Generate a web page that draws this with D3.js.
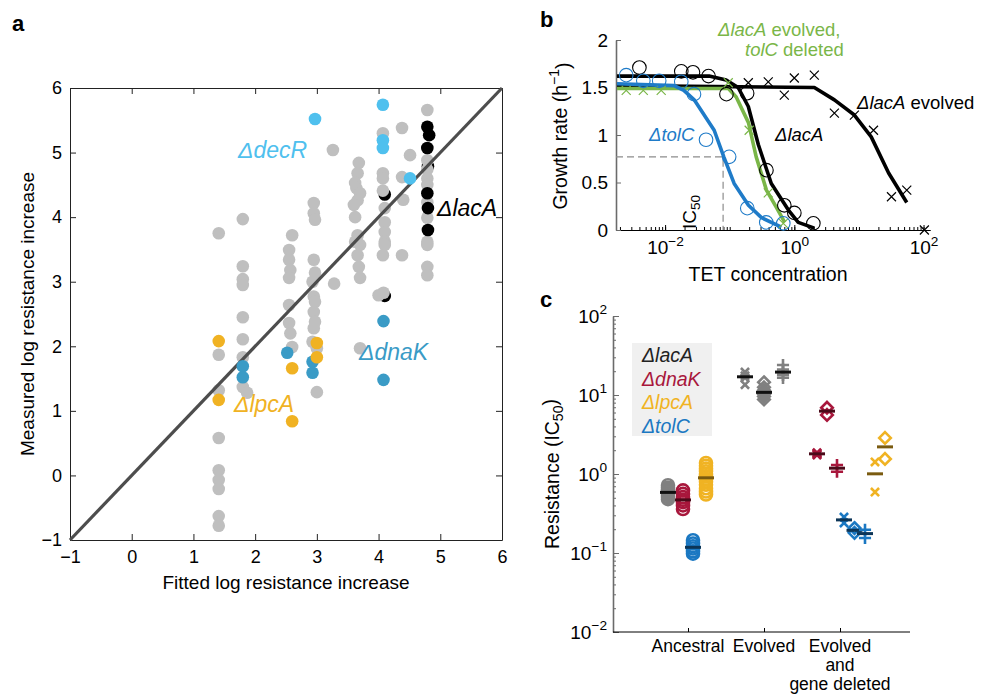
<!DOCTYPE html>
<html>
<head>
<meta charset="utf-8">
<script src="https://cdnjs.cloudflare.com/ajax/libs/d3/7.8.5/d3.min.js"></script>
<style>
body { margin: 0; background: #fff; }
svg { font-family: "Liberation Sans", Arial, Helvetica, sans-serif; }
</style>
</head>
<body>
<svg id="fig" width="982" height="695"></svg>
<script>
// ---------- panel a : [fitted, measured] log resistance increase
const grayPoints = [
  [1.41,3.75],[1.41,1.87],[1.41,1.32],[1.41,0.58],[1.41,0.08],[1.41,-0.07],[1.41,-0.21],[1.41,-0.63],[1.41,-0.78],
  [1.8,3.97],[1.8,3.24],[1.8,3.04],[1.8,2.95],[1.8,2.45],[1.8,2.11],[1.8,1.83],[1.8,1.37],[1.87,1.28],
  [2.6,3.72],[2.55,3.49],[2.55,3.34],[2.57,3.18],[2.55,3.06],[2.55,2.64],[2.55,2.36],[2.57,2.2],[2.6,1.99],
  [2.95,4.22],[2.95,4.06],[2.97,3.96],[2.95,3.34],[2.97,3.14],[2.93,3.0],[2.95,2.77],[2.97,2.69],[2.95,2.53],
  [2.97,2.38],[2.95,2.28],[2.93,2.07],[3.0,1.97],[3.0,1.29],
  [3.26,5.04],[3.28,2.97],[3.7,1.97],
  [3.68,4.84],[3.66,4.68],[3.62,4.53],[3.64,4.45],[3.7,4.37],[3.66,4.26],[3.6,4.19],[3.62,4.0],[3.66,3.72],
  [3.62,3.62],[3.7,3.57],[3.66,3.41],[3.68,3.23],[3.7,3.06],
  [4.07,5.3],[4.07,4.68],[4.07,4.6],[4.07,4.41],[4.1,4.14],[4.1,3.92],[4.1,3.77],[4.1,3.62],[4.1,3.57],
  [4.07,3.41],[4.08,2.83],[4.0,2.79],
  [4.38,5.38],[4.38,4.62],[4.4,4.27],[4.38,3.41],[4.51,4.96],
  [4.79,5.66],[4.79,4.88],[4.79,4.74],[4.79,4.6],[4.79,4.5],[4.79,4.23],[4.79,3.99],[4.79,3.62],[4.79,3.57],
  [4.79,3.23],[4.79,3.1]
];
const lacAHidden = [[4.1,4.35],[4.1,2.78],[4.8,4.79]];
const decRPoints = [[2.97,5.52],[4.07,5.74],[4.07,5.19],[4.07,5.07],[4.51,4.6]];
const dnaKPoints = [[1.8,1.69],[1.8,1.52],[2.52,1.9],[2.93,1.76],[2.93,1.59],[4.08,2.39],[4.08,1.48]];
const lpcAPoints = [[1.41,2.08],[1.41,1.17],[2.6,1.66],[2.6,0.84],[3.0,2.05],[3.0,1.83]];
const lacAPoints = [[4.79,5.4],[4.82,5.27],[4.79,5.07],[4.79,4.37],[4.8,4.14],[4.8,3.8]];
const aTicks = [-1, 0, 1, 2, 3, 4, 5, 6];

// ---------- panel b : [TET concentration, growth rate]
const lacAFit = [[0.0018,1.62],[0.048,1.62],[0.088,1.58],[0.135,1.5],[0.194,1.3],[0.277,0.9],[0.44,0.49],[0.81,0.21],[1.15,0.08],[2.04,0.02]];
const tolCFit = [[0.0018,1.54],[0.0138,1.52],[0.0195,1.47],[0.0282,1.37],[0.0575,1.05],[0.081,0.77],[0.117,0.49],[0.195,0.26],[0.31,0.13],[0.63,0.03]];
const lacAtolCFit = [[0.0018,1.49],[0.0955,1.49],[0.126,1.4],[0.195,1.13],[0.257,0.77],[0.37,0.42],[0.525,0.24],[0.71,0.08]];
const lacAEvoFit = [[0.0018,1.52],[2.04,1.5],[4.17,1.37],[8.5,1.21],[15.5,0.98],[28.8,0.6],[55,0.29]];
const lacACircles = [[0.004,1.71],[0.0178,1.67],[0.027,1.66],[0.047,1.62],[0.089,1.43],[0.186,1.44],[0.37,0.63],[0.7,0.26],[1.0,0.18],[1.97,0.07]];
const tolCCircles = [[0.0025,1.63],[0.0046,1.57],[0.0081,1.57],[0.0178,1.56],[0.028,1.43],[0.043,0.95],[0.098,0.77],[0.187,0.23],[0.368,0.08],[0.675,0.07]];
const lacAtolCCrosses = [[0.0025,1.47],[0.0046,1.47],[0.0087,1.47],[0.095,1.55],[0.2,1.05],[0.395,0.39],[0.675,0.07]];
const lacAEvoCrosses = [[0.194,1.55],[0.395,1.56],[0.7,1.42],[1.0,1.6],[2.04,1.63],[4.17,1.23],[8.5,1.21],[16.8,1.05],[31.9,0.35],[55,0.42],[103,0.0]];
const tolCIC50 = [0.079, 0.77];
const bYTicks = [0, 0.5, 1, 1.5, 2];
const bXLabels = [0.01, 1, 100];

// ---------- panel c : resistance (IC50)
const groups = ["Ancestral", "Evolved", "Evolved and gene deleted"];
const groupLines = [["Ancestral"], ["Evolved"], ["Evolved", "and", "gene deleted"]];
const strains = ["\u0394lacA", "\u0394dnaK", "\u0394lpcA", "\u0394tolC"];
const ancLacA = [0.72, 0.67, 0.63, 0.6, 0.57, 0.54, 0.51, 0.48];
const ancDnaK = [0.62, 0.56, 0.51, 0.47, 0.44, 0.4, 0.36];
const ancLpcA = [1.38, 1.27, 1.17, 1.08, 1.0, 0.93, 0.86, 0.8, 0.73, 0.66, 0.6, 0.55];
const ancTolC = [0.145, 0.132, 0.122, 0.114, 0.105, 0.098];
// evolved lineages: x-lineage, diamond-lineage, plus-lineage
const evoLacA = [[19.5, 17.5, 16.5, 13.5], [14.5, 12.5, 11.5, 10.8, 10.2, 9.6, 8.8], [24, 21, 19.5, 18, 16.5]];
const delDnaK = [[1.86, 1.82, 1.78, 1.74], [6.9, 5.6], [1.3, 1.07]];
const delTolC = [[0.285, 0.24], [0.207, 0.18], [0.197, 0.155]];
const delLpcA = [[1.42, 0.59], [2.86, 1.55]];
const cYTicks = [0.01, 0.1, 1, 10, 100];

var svg = d3.select("#fig");

var colGray = "#bfbfbf", colDecR = "#4fc0ee", colDnaK = "#3a9bc6", colLpcA = "#f0b223";

function styleAxis(g, size, lineCol) {
  g.attr("font-family", null).attr("font-size", size);
  g.selectAll("text").attr("fill", "#000");
  g.selectAll("line").attr("stroke", lineCol);
  g.select(".domain").attr("stroke", lineCol);
}

function powLabels(g) {
  g.selectAll(".tick text").each(function(d) {
    var t = d3.select(this), e = Math.round(Math.log10(d));
    t.text(null);
    t.append("tspan").text("10");
    t.append("tspan").attr("dy", "-0.6em").attr("font-size", "0.72em")
      .text(e < 0 ? "\u2212" + (-e) : e);
  });
}

// ================= panel a =================
var xA = d3.scaleLinear().domain([-1, 6]).range([70, 502]);
var yA = d3.scaleLinear().domain([-1, 6]).range([540, 88]);
var gA = svg.append("g");
var fmtA = d3.format("d");

gA.append("g").attr("transform", "translate(0,540)")
  .call(d3.axisBottom(xA).tickValues(aTicks).tickSize(-6).tickSizeOuter(0).tickPadding(10).tickFormat(fmtA))
  .call(styleAxis, 18, "#222");
gA.append("g").attr("transform", "translate(0,88)")
  .call(d3.axisTop(xA).tickValues(aTicks).tickSize(-6).tickSizeOuter(0).tickFormat(""))
  .call(styleAxis, 18, "#222");
gA.append("g").attr("transform", "translate(70,0)")
  .call(d3.axisLeft(yA).tickValues(aTicks).tickSize(-6).tickSizeOuter(0).tickPadding(8).tickFormat(fmtA))
  .call(styleAxis, 18, "#222");
gA.append("g").attr("transform", "translate(502,0)")
  .call(d3.axisRight(yA).tickValues(aTicks).tickSize(-6).tickSizeOuter(0).tickFormat(""))
  .call(styleAxis, 18, "#222");

function dotsA(data, col) {
  gA.append("g").selectAll("circle").data(data).enter().append("circle")
    .attr("cx", d => xA(d[0])).attr("cy", d => yA(d[1])).attr("r", 6.3).attr("fill", col);
}
dotsA(lacAHidden, "#000");
dotsA(grayPoints, colGray);

gA.append("path").datum([-1, 6])
  .attr("d", d3.line().x(d => xA(d)).y(d => yA(d)))
  .attr("stroke", "#4d4d4d").attr("stroke-width", 3.2).attr("fill", "none");

dotsA(decRPoints, colDecR);
dotsA(dnaKPoints, colDnaK);
dotsA(lpcAPoints, colLpcA);
dotsA(lacAPoints, "#000");

function labelA(x, y, txt, col) {
  gA.append("text").attr("x", x).attr("y", y).attr("font-size", 23)
    .attr("font-style", "italic").attr("fill", col).text(txt);
}
labelA(238, 158, "\u0394decR", colDecR);
labelA(437, 216, "\u0394lacA", "#000");
labelA(359, 360, "\u0394dnaK", colDnaK);
labelA(234, 412, "\u0394lpcA", colLpcA);

gA.append("text").attr("x", 286).attr("y", 589).attr("text-anchor", "middle")
  .attr("font-size", 19).text("Fitted log resistance increase");
gA.append("text").attr("transform", "translate(34,314) rotate(-90)").attr("text-anchor", "middle")
  .attr("font-size", 19).text("Measured log resistance increase");
svg.append("text").attr("x", 12).attr("y", 31).attr("font-size", 22).attr("font-weight", "bold").text("a");

// ================= panel b =================
var xB = d3.scaleLog().domain([Math.pow(10, -2.76), Math.pow(10, 2.1)]).range([616, 930]);
var yB = d3.scaleLinear().domain([0, 2]).range([230, 40]);
var gB = svg.append("g");

var minorB = [];
for (var e = -3; e <= 2; e++) for (var m = 1; m <= 9; m++) {
  var v = m * Math.pow(10, e);
  if (v >= xB.domain()[0] && v <= xB.domain()[1]) minorB.push(v);
}
gB.append("g").attr("transform", "translate(0,230)")
  .call(d3.axisBottom(xB).tickValues(minorB).tickSize(-3).tickSizeOuter(0).tickFormat(""))
  .call(styleAxis, 19, "#000");
gB.append("g").attr("transform", "translate(0,230)")
  .call(d3.axisBottom(xB).tickValues(bXLabels).tickSize(-5).tickSizeOuter(0).tickPadding(11))
  .call(styleAxis, 19, "#000").call(powLabels);
gB.append("g").attr("transform", "translate(616,0)")
  .call(d3.axisLeft(yB).tickValues(bYTicks).tickSize(-5).tickSizeOuter(0).tickPadding(8).tickFormat(d3.format("")))
  .call(styleAxis, 19, "#6b6b6b")
  .call(g => g.select(".domain").attr("stroke-width", 1.6));

// IC50 guide
gB.append("path")
  .datum([[xB.domain()[0], tolCIC50[1]], [tolCIC50[0], tolCIC50[1]], [tolCIC50[0], 0]])
  .attr("d", d3.line().x(d => xB(d[0])).y(d => yB(d[1])))
  .attr("fill", "none").attr("stroke", "#8c8c8c").attr("stroke-width", 1.2).attr("stroke-dasharray", "7,4");

var lineB = d3.line().x(d => xB(d[0])).y(d => yB(d[1]));
var colBlue = "#1f7bc8", colGreen = "#7ab648";
function curveB(data, col) {
  gB.append("path").datum(data).attr("d", lineB).attr("fill", "none")
    .attr("stroke", col).attr("stroke-width", 3.6).attr("stroke-linejoin", "round");
}
function circlesB(data, col) {
  gB.append("g").selectAll("circle").data(data).enter().append("circle")
    .attr("cx", d => xB(d[0])).attr("cy", d => yB(d[1])).attr("r", 6.8)
    .attr("fill", "none").attr("stroke", col).attr("stroke-width", 1.1);
}
function crossesB(data, col) {
  gB.append("g").selectAll("path").data(data).enter().append("path")
    .attr("d", d => { var x = xB(d[0]), y = yB(d[1]), s = 4.5;
      return "M" + (x - s) + "," + (y - s) + "L" + (x + s) + "," + (y + s) + "M" + (x - s) + "," + (y + s) + "L" + (x + s) + "," + (y - s); })
    .attr("stroke", col).attr("stroke-width", 1.2);
}
curveB(lacAEvoFit, "#000");
curveB(lacAFit, "#000");
curveB(lacAtolCFit, colGreen);
curveB(tolCFit, colBlue);
crossesB(lacAEvoCrosses, "#000");
circlesB(lacACircles, "#000");
crossesB(lacAtolCCrosses, colGreen);
circlesB(tolCCircles, colBlue);

function richText(g, x, y, parts, col, size) {
  var t = g.append("text").attr("x", x).attr("y", y).attr("font-size", size).attr("fill", col);
  parts.forEach(p => t.append("tspan").attr("font-style", p[1] ? "italic" : null).text(p[0]));
  return t;
}
richText(gB, 718, 36, [["\u0394lacA", true], [" evolved,", false]], colGreen, 18.5);
richText(gB, 745, 56, [["tolC", true], [" deleted", false]], colGreen, 18.5);
richText(gB, 857, 109, [["\u0394lacA", true], [" evolved", false]], "#000", 18.5);
richText(gB, 775, 141, [["\u0394lacA", true]], "#000", 18.5);
richText(gB, 649, 141, [["\u0394tolC", true]], colBlue, 18.5);

var ic = gB.append("text").attr("transform", "translate(696,229) rotate(-90)").attr("font-size", 19);
ic.append("tspan").text("IC");
ic.append("tspan").attr("dy", "0.3em").attr("font-size", "0.72em").text("50");

gB.append("text").attr("x", 768).attr("y", 281).attr("text-anchor", "middle").attr("font-size", 19.5).text("TET concentration");
var gr = gB.append("text").attr("transform", "translate(567,136) rotate(-90)").attr("text-anchor", "middle").attr("font-size", 19.5);
gr.append("tspan").text("Growth rate (h");
gr.append("tspan").attr("dy", "-0.55em").attr("font-size", "0.72em").text("\u22121");
gr.append("tspan").attr("dy", "0.55em").text(")");
svg.append("text").attr("x", 540).attr("y", 27).attr("font-size", 22).attr("font-weight", "bold").text("b");

// ================= panel c =================
var xC = d3.scalePoint().domain(groups).range([688, 840]);
var yC = d3.scaleLog().domain([0.01, 100]).range([632, 316]);
var gC = svg.append("g");

var minorC = [];
for (var e2 = -2; e2 < 2; e2++) for (var m2 = 2; m2 <= 9; m2++) minorC.push(m2 * Math.pow(10, e2));
gC.append("g").attr("transform", "translate(613,0)")
  .call(d3.axisLeft(yC).tickValues(minorC).tickSize(-3).tickSizeOuter(0).tickFormat(""))
  .call(styleAxis, 19, "#6b6b6b")
  .call(g => g.select(".domain").attr("stroke-width", 1.6));
gC.append("g").attr("transform", "translate(613,0)")
  .call(d3.axisLeft(yC).tickValues(cYTicks).tickSize(-6).tickSizeOuter(0).tickPadding(6))
  .call(styleAxis, 19, "#6b6b6b").call(powLabels)
  .call(g => g.select(".domain").remove());
gC.append("line").attr("x1", 613).attr("x2", 910).attr("y1", 632).attr("y2", 632).attr("stroke", "#000");
gC.append("g").attr("transform", "translate(0,632)")
  .call(d3.axisBottom(xC).tickSize(-4).tickSizeOuter(0).tickFormat(""))
  .call(styleAxis, 16, "#000").call(g => g.select(".domain").remove());

groupLines.forEach((lines, i) => {
  lines.forEach((ln, j) => {
    gC.append("text").attr("x", xC(groups[i])).attr("y", 652 + j * 19)
      .attr("text-anchor", "middle").attr("font-size", 17.5).text(ln);
  });
});

var cLacA = ["#808080", "#111"], cDnaK = ["#a8173c", "#4a0a19"],
    cLpcA = ["#f0b323", "#7a5b10"], cTolC = ["#1b78c2", "#0c3557"];

var symTimes = d3.symbolTimes || d3.symbolX || d3.symbolCross;
var symPlus = d3.symbolPlus || d3.symbolCross;
var symDiamond = d3.symbolDiamond2 || d3.symbolDiamond;

function markC(group, dx, vals, shape, cols) {
  var x = xC(group) + dx;
  var g = gC.append("g");
  if (shape === "circle") {
    g.selectAll("circle").data(vals).enter().append("circle")
      .attr("cx", x).attr("cy", d => yC(d)).attr("r", 6)
      .attr("fill", "none").attr("stroke", cols[0]).attr("stroke-width", 2.6);
  } else {
    var type = shape === "x" ? symTimes : shape === "+" ? symPlus : symDiamond;
    var size = shape === "d" ? 85 : shape === "x" ? 45 : 50;
    g.selectAll("path").data(vals).enter().append("path")
      .attr("transform", d => "translate(" + x + "," + yC(d) + ")")
      .attr("d", d3.symbol().type(type).size(size))
      .attr("fill", "none").attr("stroke", cols[0]).attr("stroke-width", 2.6);
  }
  var med = d3.median(vals);
  g.append("line").attr("x1", x - 8).attr("x2", x + 8).attr("y1", yC(med)).attr("y2", yC(med))
    .attr("stroke", cols[1]).attr("stroke-width", 3);
}
var shapes = ["x", "d", "+"];
markC(groups[0], -20, ancLacA, "circle", cLacA);
markC(groups[0], -5, ancDnaK, "circle", cDnaK);
markC(groups[0], 5, ancTolC, "circle", cTolC);
markC(groups[0], 18, ancLpcA, "circle", cLpcA);
evoLacA.forEach((v, i) => markC(groups[1], -19 + i * 19, v, shapes[i], cLacA));
delDnaK.forEach((v, i) => markC(groups[2], -23 + i * 10, v, shapes[i], cDnaK));
delTolC.forEach((v, i) => markC(groups[2], 4 + i * 10.5, v, shapes[i], cTolC));
delLpcA.forEach((v, i) => markC(groups[2], 35 + i * 10, v, shapes[i], cLpcA));

// legend
gC.append("rect").attr("x", 632).attr("y", 343).attr("width", 80).attr("height", 93).attr("fill", "#f0f0f0");
var legCols = ["#222", cDnaK[0], cLpcA[0], cTolC[0]];
strains.forEach((s, i) => {
  gC.append("text").attr("x", 642).attr("y", 362 + i * 23.5).attr("font-size", 19.5)
    .attr("font-style", "italic").attr("fill", legCols[i]).text(s);
});

var rs = gC.append("text").attr("transform", "translate(559,474) rotate(-90)").attr("text-anchor", "middle").attr("font-size", 19.5);
rs.append("tspan").text("Resistance (IC");
rs.append("tspan").attr("dy", "0.3em").attr("font-size", "0.72em").text("50");
rs.append("tspan").attr("dy", "-0.3em").text(")");
svg.append("text").attr("x", 540).attr("y", 307).attr("font-size", 22).attr("font-weight", "bold").text("c");
</script>
</body>
</html>
